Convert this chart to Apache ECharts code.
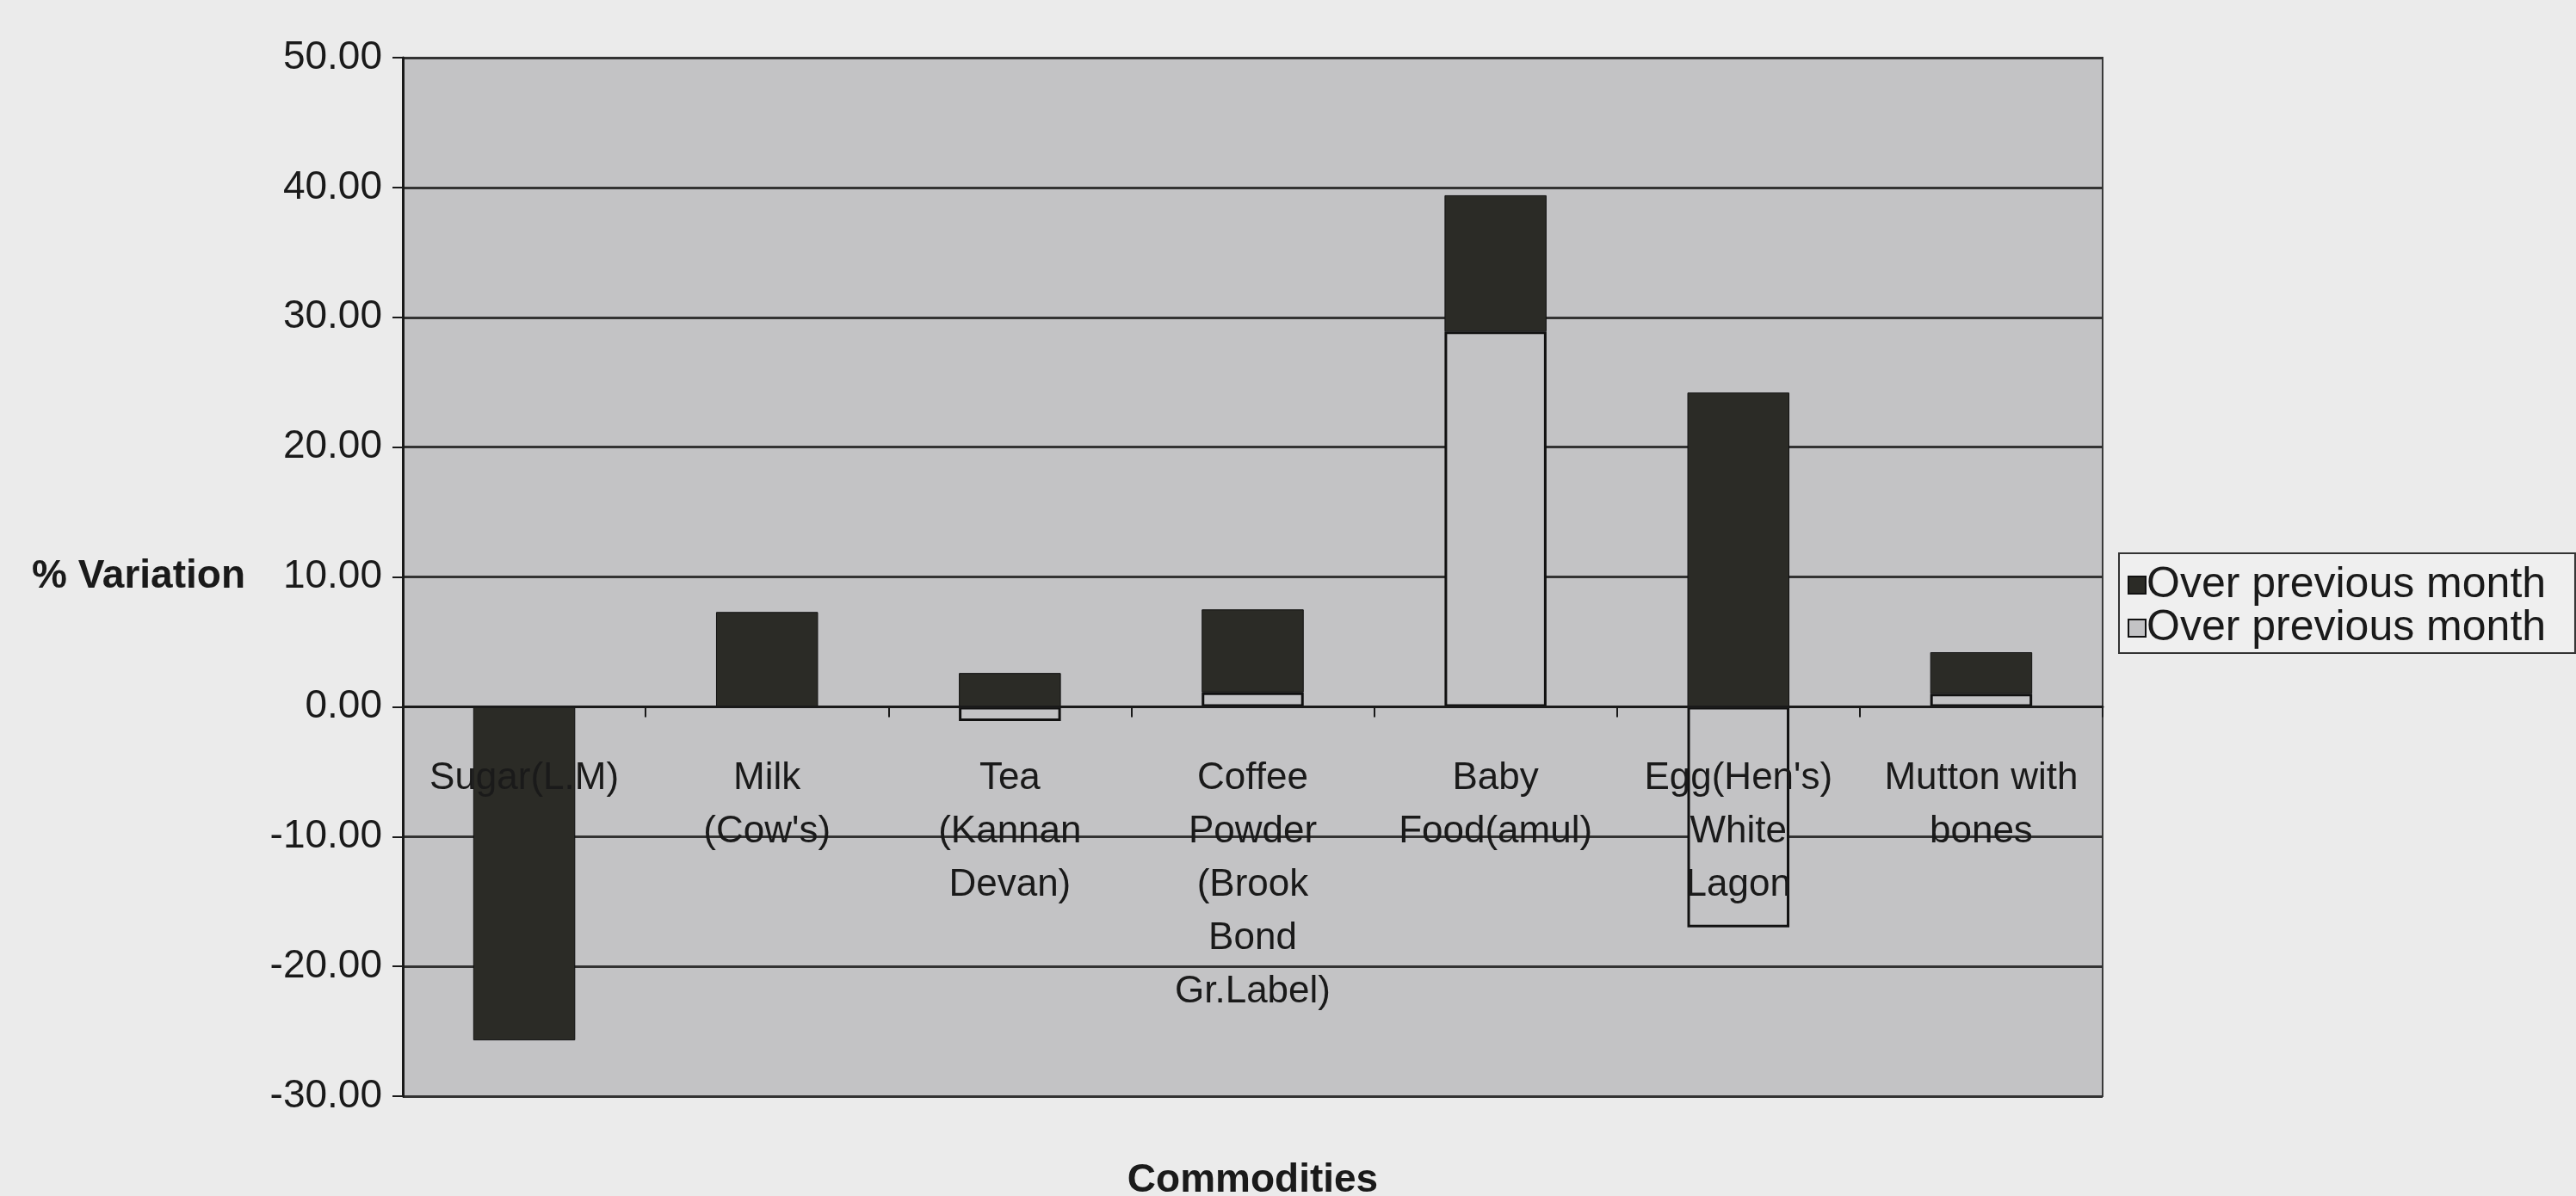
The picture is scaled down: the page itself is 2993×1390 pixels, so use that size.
<!DOCTYPE html>
<html>
<head>
<meta charset="utf-8">
<script src="https://cdn.jsdelivr.net/npm/echarts@6/dist/echarts.min.js"></script>
<style>
html,body{margin:0;padding:0;background:#ebebeb;}
#chart{width:2993px;height:1390px;}
</style>
</head>
<body>
<div id="chart"></div>
<script>
const categories = ['Sugar(L.M)', "Milk\n(Cow's)", 'Tea\n(Kannan\nDevan)', 'Coffee\nPowder\n(Brook\nBond\nGr.Label)', 'Baby\nFood(amul)', "Egg(Hen's)\nWhite\nLagon", 'Mutton with\nbones'];
const lightSeriesName = 'Over previous month ';
const darkSeriesName = 'Over previous month';
const lightValues = [0, 0, -1.1, 1.1, 28.9, -17.0, 1.0];
const darkValues = [-25.7, 7.3, 2.6, 6.4, 10.5, 24.2, 3.2];
const yTicks = { min: -30, max: 50, interval: 10 };

const FONT = '"Liberation Sans", Arial, sans-serif';
const GRID_TOP = 67, GRID_BOTTOM = 116, H = 1390;
const plotH = H - GRID_TOP - GRID_BOTTOM;
// distance from plot bottom up to the zero line, derived from the y range
const zeroOffset = plotH * (0 - yTicks.min) / (yTicks.max - yTicks.min);

const chart = echarts.init(document.getElementById('chart'), null, { renderer: 'canvas' });
chart.setOption({
  backgroundColor: '#ebebeb',
  animation: false,
  textStyle: { fontFamily: FONT, color: '#1a1a1a' },
  grid: {
    left: 468, right: 550, top: GRID_TOP, bottom: GRID_BOTTOM,
    containLabel: false,
    outerBoundsMode: 'none',
    show: true, backgroundColor: '#c3c3c5', borderColor: '#3a3a3a', borderWidth: 2
  },
  legend: {
    orient: 'vertical',
    left: 2462, top: 643,
    data: [darkSeriesName, lightSeriesName],
    icon: 'rect',
    itemWidth: 20, itemHeight: 20, itemGap: 0,
    padding: [12, 20, 4, 10],
    borderColor: '#333', borderWidth: 2,
    backgroundColor: '#efefef',
    textStyle: { fontFamily: FONT, fontSize: 50, color: '#1a1a1a', padding: [0, 0, 0, -4] }
  },
  xAxis: {
    type: 'category',
    data: categories,
    offset: -zeroOffset,
    z: 5,
    name: 'Commodities',
    nameLocation: 'middle',
    nameGap: 528,
    nameTextStyle: { fontFamily: FONT, fontSize: 46, fontWeight: 'bold', color: '#1a1a1a' },
    axisLine: { onZero: false, lineStyle: { color: '#1a1a1a', width: 3 } },
    axisTick: { show: true, alignWithLabel: false, length: 12, lineStyle: { color: '#1a1a1a', width: 2 } },
    axisLabel: { fontFamily: FONT, fontSize: 44, lineHeight: 62, color: '#1a1a1a', margin: 52, interval: 0 },
    splitLine: { show: false }
  },
  yAxis: {
    type: 'value',
    min: yTicks.min, max: yTicks.max, interval: yTicks.interval,
    name: '% Variation',
    nameLocation: 'middle',
    nameRotate: 0,
    nameGap: 183,
    nameTextStyle: { fontFamily: FONT, fontSize: 46, fontWeight: 'bold', color: '#1a1a1a' },
    axisLine: { show: true, lineStyle: { color: '#1a1a1a', width: 3 } },
    axisTick: { show: true, length: 12, lineStyle: { color: '#1a1a1a', width: 2 } },
    axisLabel: { fontFamily: FONT, fontSize: 46, color: '#1a1a1a', margin: 24, formatter: v => v.toFixed(2) },
    splitLine: { show: true, lineStyle: { color: '#333333', width: 3 } }
  },
  series: [
    {
      name: lightSeriesName,
      type: 'bar',
      stack: 'total',
      barWidth: '42%',
      data: lightValues,
      itemStyle: { color: '#c3c3c5', borderColor: '#111', borderWidth: 3 }
    },
    {
      name: darkSeriesName,
      type: 'bar',
      stack: 'total',
      barWidth: '42%',
      data: darkValues,
      itemStyle: { color: '#2b2b26', borderColor: '#111', borderWidth: 1 }
    }
  ]
});
</script>
</body>
</html>
